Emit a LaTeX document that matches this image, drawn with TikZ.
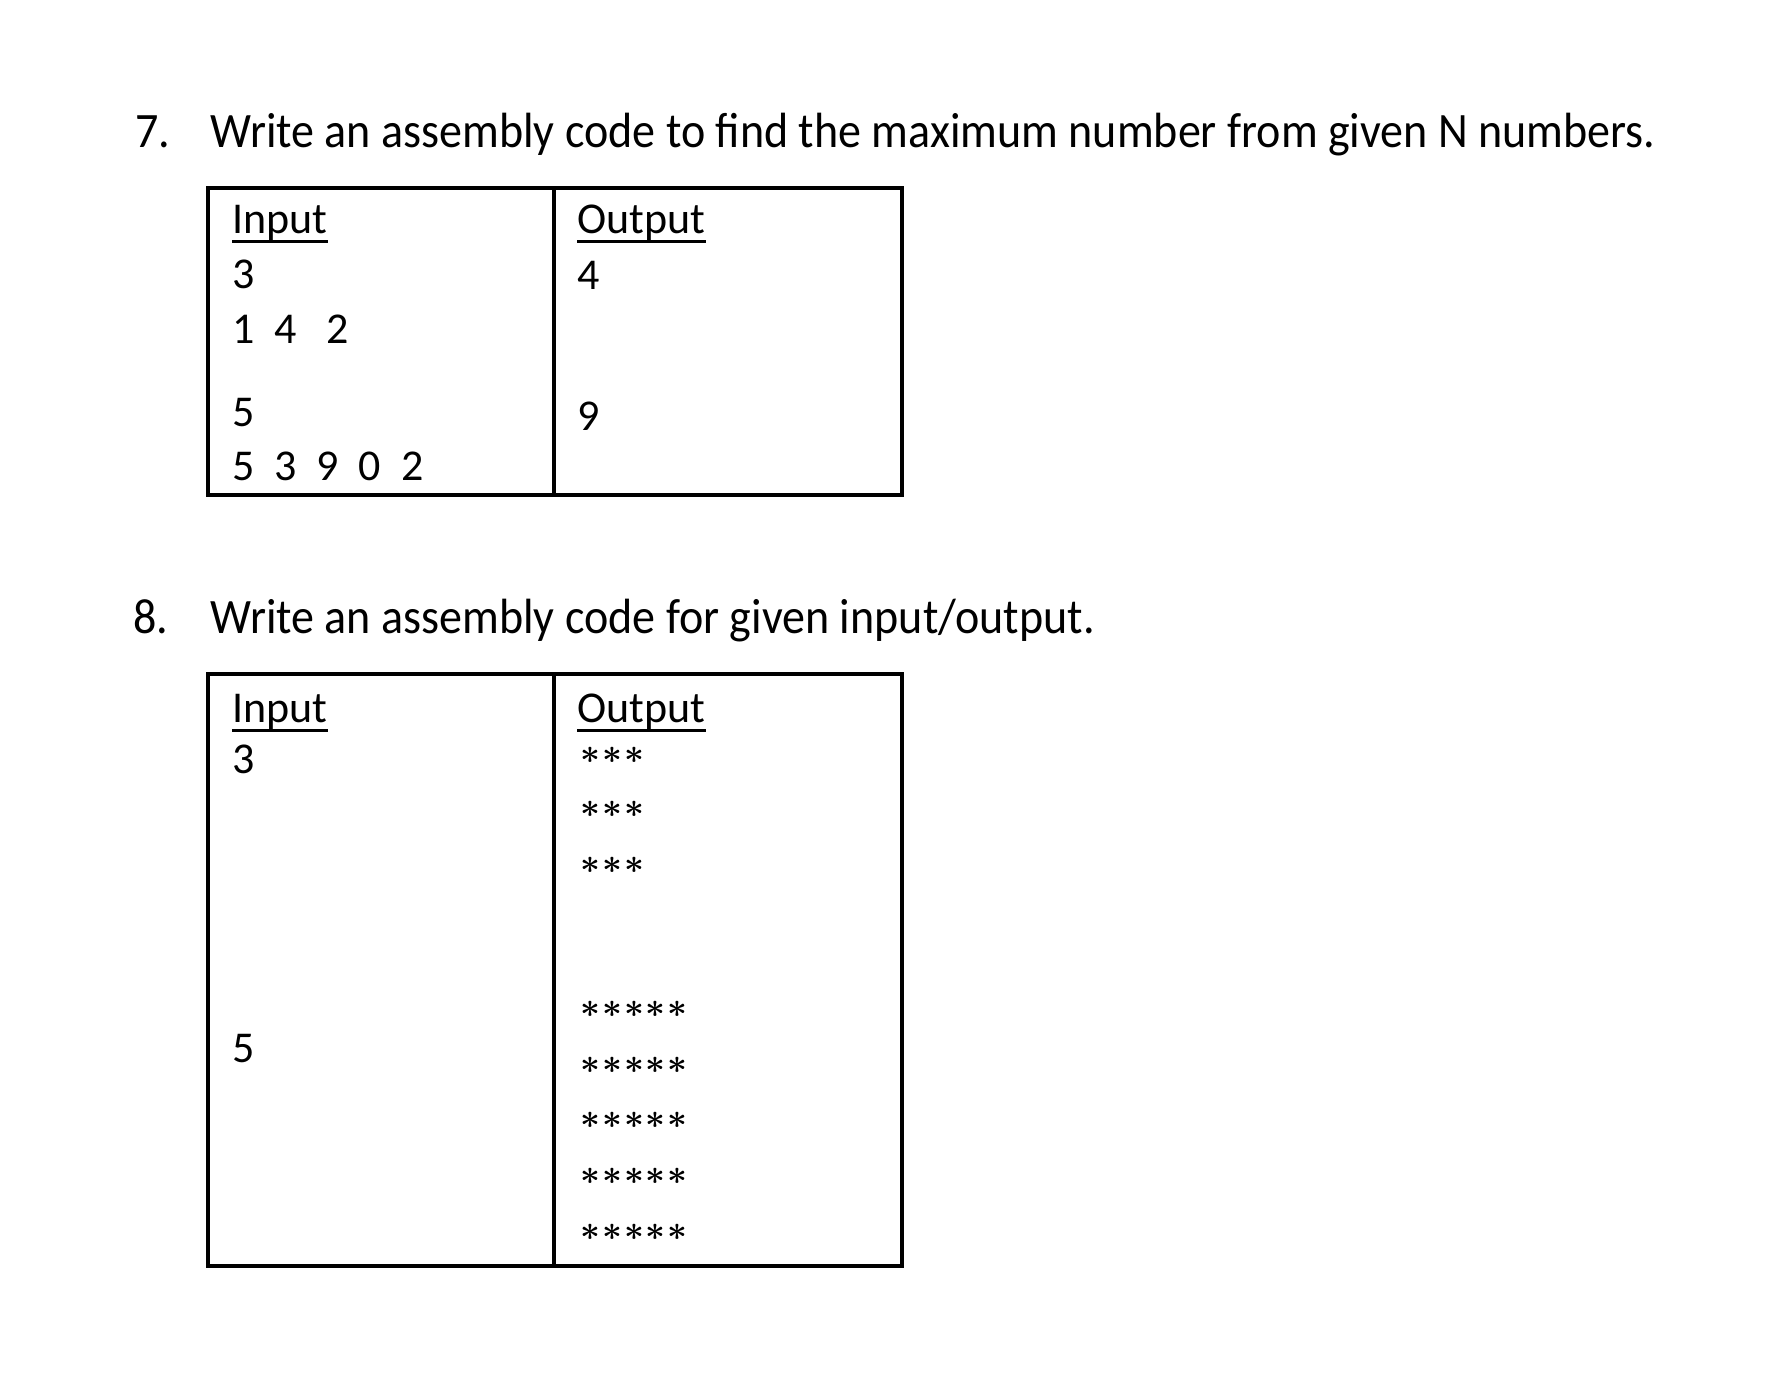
\documentclass[tikz,border=0pt]{standalone}
\usepackage{amsmath}
\usepackage{fontspec}
\setmainfont{Carlito}
\newfontfamily\qfont[FakeStretch=0.93]{Carlito}
\usetikzlibrary{positioning}
\newcommand{\st}{\ensuremath{\boldsymbol{\ast}}\kern1pt}

\begin{document}
\begin{tikzpicture}[x=0.5pt,y=-0.5pt,
	qtext/.style={anchor=base west,inner sep=0pt,font=\qfont\fontsize{24.75}{30}\selectfont},
	ctext/.style={anchor=base west,inner sep=0pt,font=\fontsize{22}{26}\selectfont},
	stars/.style={anchor=west,inner sep=0pt,font=\fontsize{18.5}{22}\selectfont},
	box/.style={line width=1.6pt},
	uline/.style={line width=1.6pt}]
	\useasboundingbox (0,0) rectangle (1785,1377);
	% question 7
	\node[qtext] (n7) at (135,147) {7.};
	\node[qtext] (q7) at (210,147) {Write an assembly code to find the maximum number from given N numbers.};
	\draw[box] (208,188) rectangle (902,495) (554,188) -- (554,495);
	\node[ctext] (in7) at (232,233) {Input};
	\node[ctext] (out7) at (577,233) {Output};
	\node[ctext] (a1) at (232,288) {3};
	\node[ctext] (a2) at (232,343) {1~~4~~~2};
	\node[ctext] (a3) at (232,426) {5};
	\node[ctext] (a4) at (232,480) {5~~3~~9~~0~~2};
	\node[ctext] (r1) at (577,289) {4};
	\node[ctext] (r2) at (577,430) {9};
	\foreach \n in {in7,out7}
		\draw[uline] ([yshift=-4.2pt]\n.base west) -- ([yshift=-4.2pt]\n.base east);
	% question 8
	\node[qtext] (n8) at (133,633) {8.};
	\node[qtext] (q8) at (210,633) {Write an assembly code for given input/output.};
	\draw[box] (208,674) rectangle (902,1266) (554,674) -- (554,1266);
	\node[ctext] (in8) at (232,722) {Input};
	\node[ctext] (out8) at (577,722) {Output};
	\node[ctext] (b1) at (232,773) {3};
	\node[ctext] (b2) at (232,1062) {5};
	\foreach \n in {in8,out8}
		\draw[uline] ([yshift=-4.2pt]\n.base west) -- ([yshift=-4.2pt]\n.base east);
	\foreach \y [count=\i] in {755,809,865}
		\node[stars] (s3\i) at (580,\y) {\st\st\st};
	\foreach \y [count=\i] in {1009,1065,1120,1176,1232}
		\node[stars] (s5\i) at (580,\y) {\st\st\st\st\st};
\end{tikzpicture}
\end{document}
